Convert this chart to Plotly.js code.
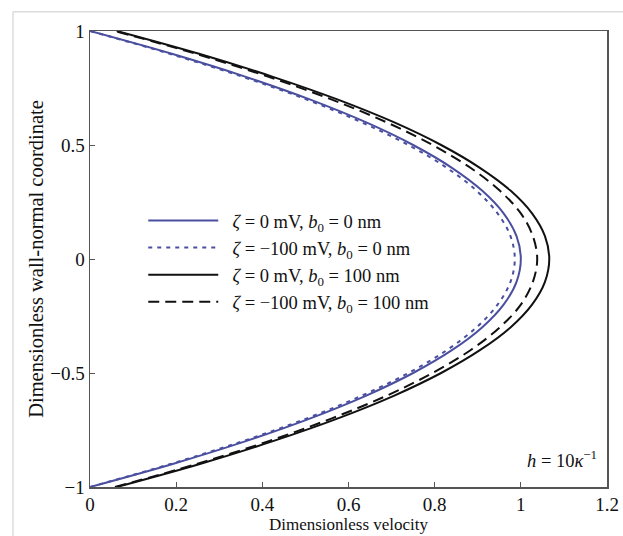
<!DOCTYPE html>
<html>
<head>
<meta charset="utf-8">
<script src="https://cdn.plot.ly/plotly-3.0.1.min.js"></script>
<style>html,body{margin:0;padding:0;background:#fff;}#chart{width:623px;height:536px;}</style>
</head>
<body>
<div id="chart"></div>
<script>
// wall-normal coordinate samples
const yCoord = [-1, -0.9, -0.8, -0.7, -0.6, -0.5, -0.4, -0.3, -0.2, -0.1, 0, 0.1, 0.2, 0.3, 0.4, 0.5, 0.6, 0.7, 0.8, 0.9, 1];
// velocity readings for each series
const uZeta0B0 = [0, 0.19, 0.36, 0.51, 0.64, 0.75, 0.84, 0.91, 0.96, 0.99, 1.0, 0.99, 0.96, 0.91, 0.84, 0.75, 0.64, 0.51, 0.36, 0.19, 0];
const uZeta100B0 = [0, 0.185, 0.353, 0.502, 0.630, 0.739, 0.828, 0.897, 0.946, 0.976, 0.986, 0.976, 0.946, 0.897, 0.828, 0.739, 0.630, 0.502, 0.353, 0.185, 0];
const uZeta0B100 = [0.062, 0.253, 0.423, 0.574, 0.705, 0.815, 0.905, 0.976, 1.026, 1.056, 1.066, 1.056, 1.026, 0.976, 0.905, 0.815, 0.705, 0.574, 0.423, 0.253, 0.062];
const uZeta100B100 = [0.058, 0.246, 0.413, 0.560, 0.688, 0.795, 0.883, 0.951, 1.000, 1.028, 1.038, 1.028, 1.000, 0.951, 0.883, 0.795, 0.688, 0.560, 0.413, 0.246, 0.058];
const seriesNames = [
  '<i>ζ</i> = 0 mV, <i>b</i><sub>0</sub> = 0 nm',
  '<i>ζ</i> = −100 mV, <i>b</i><sub>0</sub> = 0 nm',
  '<i>ζ</i> = 0 mV, <i>b</i><sub>0</sub> = 100 nm',
  '<i>ζ</i> = −100 mV, <i>b</i><sub>0</sub> = 100 nm'
];
const xTicks = [0, 0.2, 0.4, 0.6, 0.8, 1, 1.2];
const xTickText = ['0', '0.2', '0.4', '0.6', '0.8', '1', '1.2'];
const yTicks = [-1, -0.5, 0, 0.5, 1];
const yTickText = ['−1', '−0.5', '0', '0.5', '1'];

const blue = '#4a4f9f';
const font = 'Liberation Serif, Times New Roman, serif';
const mk = (x, name, color, dash) => ({
  x: x, y: yCoord, name: '\u00a0\u00a0' + name, type: 'scatter', mode: 'lines',
  line: {color: color, width: 2, dash: dash, shape: 'spline', smoothing: 1}
});
const data = [
  mk(uZeta0B0, seriesNames[0], blue, 'solid'),
  mk(uZeta100B0, seriesNames[1], blue, '4px,5px'),
  mk(uZeta0B100, seriesNames[2], '#111', 'solid'),
  mk(uZeta100B100, seriesNames[3], '#111', '11px,6px')
];
const axisCommon = {
  showgrid: false, zeroline: false, showline: true, mirror: true,
  linecolor: '#555', linewidth: 1.5, ticks: 'inside', ticklen: 5, tickcolor: '#555',
  tickfont: {family: font, size: 19, color: '#111'}
};
const layout = {
  width: 623, height: 536,
  margin: {l: 90, r: 16, t: 31, b: 49},
  paper_bgcolor: '#fff', plot_bgcolor: '#fff',
  font: {family: font, size: 18, color: '#111'},
  xaxis: Object.assign({}, axisCommon, {
    range: [0, 1.2], tickvals: xTicks, ticktext: xTickText,
    title: {text: 'Dimensionless velocity', font: {family: font, size: 17}, standoff: 0}
  }),
  yaxis: Object.assign({}, axisCommon, {
    range: [-1, 1], tickvals: yTicks, ticktext: yTickText,
    title: {text: 'Dimensionless wall-normal coordinate', font: {family: font, size: 20.5}, standoff: 1}
  }),
  showlegend: true,
  legend: {
    x: 0.103, y: 0.625, xanchor: 'left', yanchor: 'top',
    bgcolor: 'rgba(0,0,0,0)', borderwidth: 0,
    font: {family: font, size: 18.5, color: '#111'},
    tracegroupgap: 0, itemwidth: 70
  },
  annotations: [{
    xref: 'paper', yref: 'paper', x: 0.985, y: 0.03, xanchor: 'right', yanchor: 'bottom',
    text: '<i>h</i> = 10<i>κ</i><sup>−1</sup>', showarrow: false,
    font: {family: font, size: 18.5, color: '#111'}
  }],
  shapes: [
    {type: 'line', xref: 'paper', yref: 'paper', x0: -0.149, x1: -0.149, y0: 1.042, y1: -0.11, line: {color: '#dcdcdc', width: 1.5}},
    {type: 'line', xref: 'paper', yref: 'paper', x0: -0.149, x1: 1.04, y0: 1.042, y1: 1.042, line: {color: '#dcdcdc', width: 1.5}}
  ]
};
Plotly.newPlot('chart', data, layout, {displayModeBar: false, staticPlot: true});
</script>
</body>
</html>
